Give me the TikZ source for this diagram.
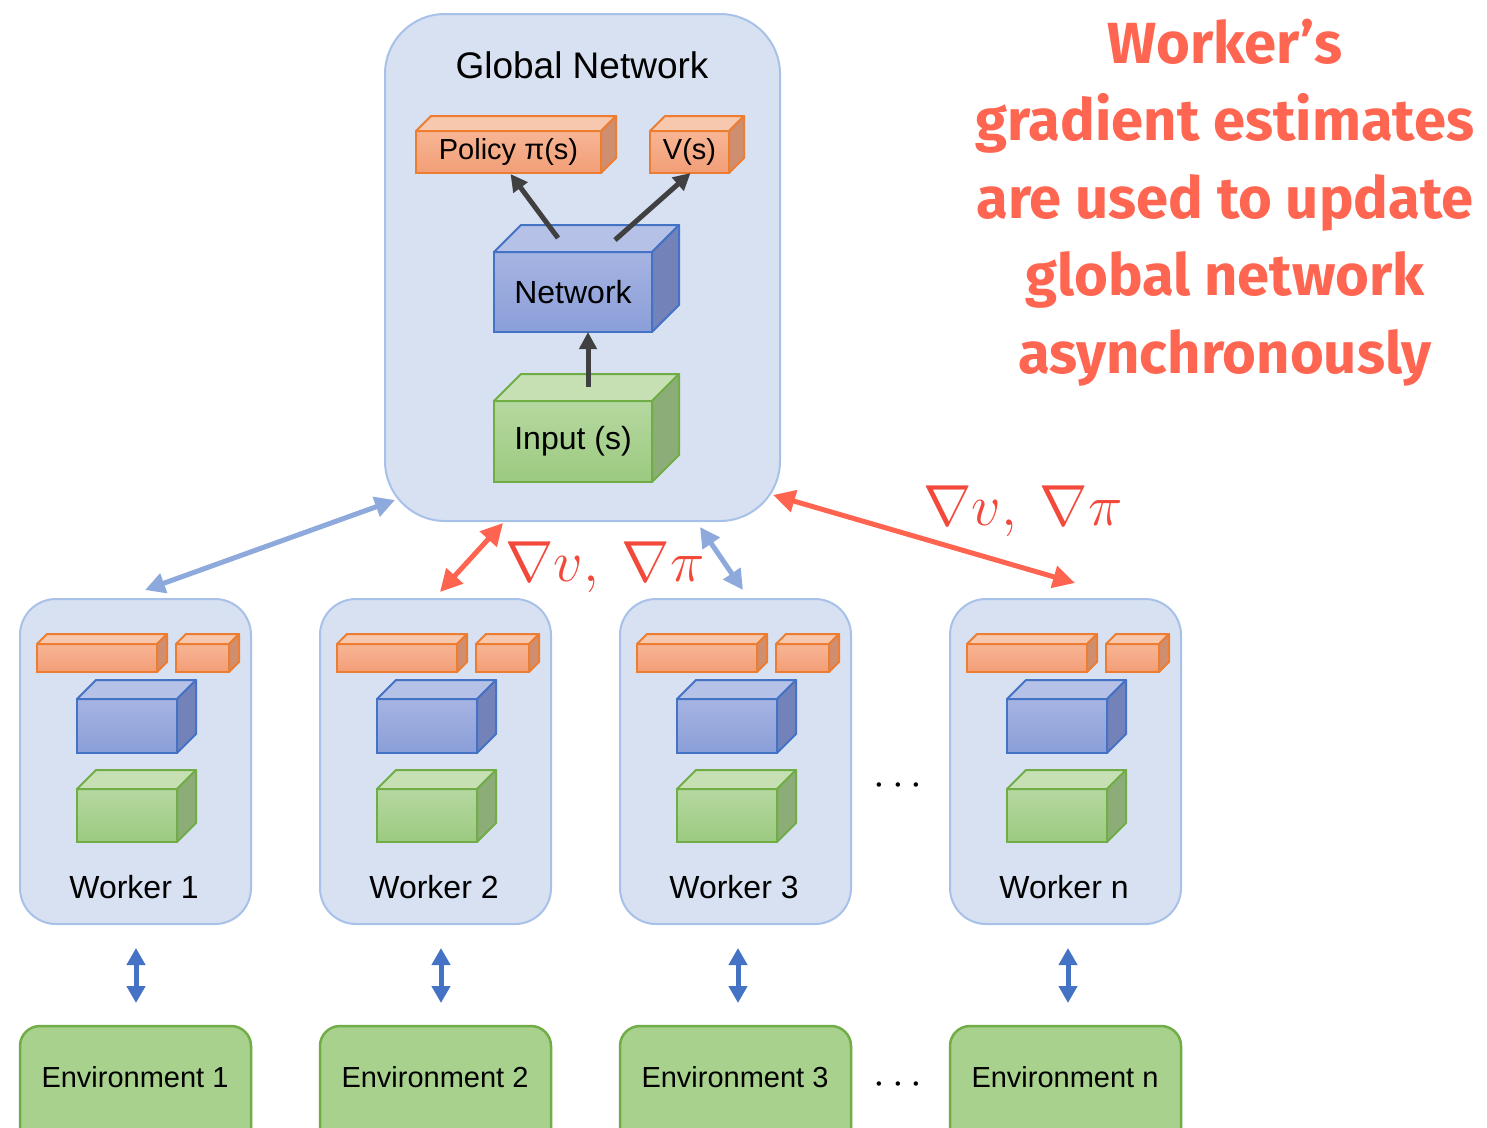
\RequirePackage{fix-cm}
\documentclass[tikz,border=0pt]{standalone}
\usepackage{fontspec}
\setmainfont{Liberation Sans}
\newfontfamily\firafont{Fira Sans}
\usetikzlibrary{arrows.meta}
\definecolor{boxfill}{HTML}{D7E1F2}
\definecolor{boxedge}{HTML}{A8C1E8}
\definecolor{oedgec}{HTML}{ED7D31}
\definecolor{ofrontt}{HTML}{F7B595}
\definecolor{ofrontb}{HTML}{F29E76}
\definecolor{otopc}{HTML}{F8C8AE}
\definecolor{osidec}{HTML}{CE8E6F}
\definecolor{bedgec}{HTML}{4472C4}
\definecolor{bfrontt}{HTML}{A6B4E2}
\definecolor{bfrontb}{HTML}{8A9ED8}
\definecolor{btopc}{HTML}{B5C1E6}
\definecolor{bsidec}{HTML}{7383BA}
\definecolor{gedgec}{HTML}{70AD47}
\definecolor{gfrontt}{HTML}{B5D8A0}
\definecolor{gfrontb}{HTML}{9CCA80}
\definecolor{gtopc}{HTML}{C6E0B4}
\definecolor{gsidec}{HTML}{8DAD78}
\definecolor{envfill}{HTML}{A9D18E}
\definecolor{envedge}{HTML}{70AD47}
\definecolor{darkarrow}{HTML}{404040}
\definecolor{redarrow}{HTML}{FF6450}
\definecolor{lightarrow}{HTML}{8EA9DB}
\definecolor{envarrow}{HTML}{4472C4}
\definecolor{redtext}{HTML}{FF6652}
\definecolor{mathred}{HTML}{F2493A}
\newcommand{\cuboid}[8]{%
  \node[#7front, anchor=north west, minimum width=#4pt, minimum height=#5pt] (#1) at (#2,#3) {#8};
  \draw[#7edge, fill=#7topc] (#1.north west) -- ++(#6,-#6) -- ([shift={(#6,-#6)}]#1.north east) -- (#1.north east) -- cycle;
  \draw[#7edge, fill=#7sidec] (#1.north east) -- ++(#6,-#6) -- ([shift={(#6,-#6)}]#1.south east) -- (#1.south east) -- cycle;
}
\tikzset{
  gbox/.style={draw=boxedge, line width=2pt, fill=boxfill, rounded corners=60pt, inner sep=0pt, outer sep=0pt},
  wbox/.style={draw=boxedge, line width=2pt, fill=boxfill, rounded corners=36pt, inner sep=0pt, outer sep=0pt},
  envbox/.style={draw=envedge, line width=2.5pt, fill=envfill, rounded corners=20pt, inner sep=0pt, outer sep=0pt},
  ofront/.style={draw=oedgec, line width=2pt, top color=ofrontt, bottom color=ofrontb, inner sep=0pt, outer sep=0pt, font=\fontsize{29}{34}\selectfont},
  oedge/.style={draw=oedgec, line width=2pt, line join=round},
  bfront/.style={draw=bedgec, line width=2pt, top color=bfrontt, bottom color=bfrontb, inner sep=0pt, outer sep=0pt, font=\fontsize{32}{38}\selectfont},
  bedge/.style={draw=bedgec, line width=2pt, line join=round},
  gfront/.style={draw=gedgec, line width=2pt, top color=gfrontt, bottom color=gfrontb, inner sep=0pt, outer sep=0pt, font=\fontsize{32}{38}\selectfont},
  gedge/.style={draw=gedgec, line width=2pt, line join=round},
  darr/.style={draw=darkarrow, line width=5pt, -{Triangle[length=17pt,width=17pt]}},
  redarr/.style={draw=redarrow, line width=5pt, {Triangle[length=22pt,width=22pt]}-{Triangle[length=22pt,width=22pt]}},
  bluearr/.style={draw=lightarrow, line width=5pt, {Triangle[length=20pt,width=20pt]}-{Triangle[length=20pt,width=20pt]}},
  envarr/.style={draw=envarrow, line width=5pt, {Triangle[length=17pt,width=18pt]}-{Triangle[length=17pt,width=18pt]}},
  wlabel/.style={inner sep=0pt, font=\fontsize{32}{38}\selectfont},
  envlabel/.style={inner sep=0pt, font=\fontsize{29}{35}\selectfont},
  mathlabel/.style={inner sep=0pt, text=mathred, font=\fontsize{58}{64}\selectfont},
  dotstyle/.style={inner sep=0pt, font=\fontsize{42}{48}\selectfont},
}
\begin{document}
\begin{tikzpicture}[x=1pt,y=-1pt]
\useasboundingbox (0,0) rectangle (1487,1127);
\clip (0,0) rectangle (1487,1127);
\fill[white] (0,0) rectangle (1487,1127);

% Global network
\node[gbox, anchor=north west, minimum width=395pt, minimum height=507pt] (global) at (385,14) {};
\node[inner sep=0pt, anchor=base, font=\fontsize{37}{44}\selectfont] (gtitle) at (582,78) {Global Network};
\cuboid{pol}{416}{131}{185}{42}{15}{o}{Policy π(s)}
\cuboid{vs}{650}{131}{79}{42}{15}{o}{V(s)}
\cuboid{net}{494}{252}{158}{80}{27}{b}{Network}
\cuboid{inp}{494}{401}{158}{81}{27}{g}{Input (s)}
\draw[darr] ([shift={(-15,-14)}]net.north) -- ([shift={(2,1)}]pol.south);
\draw[darr] ([shift={(42,-12)}]net.north) -- ([shift={(1,0)}]vs.south);
\draw[darr] ([shift={(15,-14)}]inp.north) -- ([shift={(15,0)}]net.south);

% Workers and environments
\foreach \L/\id/\wl/\el/\dx in {20/1/Worker 1/Environment 1/0.5, 320/2/Worker 2/Environment 2/5.5, 620/3/Worker 3/Environment 3/2.5, 950/4/Worker n/Environment n/2.5}{
  \node[wbox, anchor=north west, minimum width=231pt, minimum height=325pt] (w\id) at (\L,599) {};
  \cuboid{wp\id}{\L+17}{644}{120}{28}{10}{o}{}
  \cuboid{wv\id}{\L+156}{644}{53}{28}{10}{o}{}
  \cuboid{wn\id}{\L+57}{699}{100}{54}{19}{b}{}
  \cuboid{wi\id}{\L+57}{789}{100}{53}{19}{g}{}
  \node[wlabel, anchor=base] (wt\id) at (\L+114,898) {\wl};
  \node[envbox, anchor=north west, minimum width=231pt, minimum height=130pt] (e\id) at (\L,1026) {};
  \node[envlabel, anchor=base] (et\id) at (\L+115,1087) {\el};
  \draw[envarr] ([shift={(\dx,24)}]w\id.south) -- ([shift={(\dx,-23)}]e\id.north);
}

% Dots
\node[dotstyle] (dots1) at (898,786) {$\cdots$};
\node[dotstyle] (dots2) at (898,1085) {$\cdots$};

% Global <-> worker connectors
\draw[bluearr] ([shift={(10,-21)}]global.south west) -- ([shift={(9.5,-9)}]w1.north);
\draw[redarr] ([shift={(118,2)}]global.south west) -- ([shift={(4.5,-7)}]w2.north);
\draw[bluearr] ([shift={(117.5,6)}]global.south) -- ([shift={(7.5,-9)}]w3.north);
\draw[redarr] ([shift={(-7,-26)}]global.south east) -- ([shift={(9.5,-16)}]w4.north);

% Gradient labels
\node[mathlabel, anchor=base] (grad1) at (605,581) {$\nabla v,\:\nabla\pi$};
\node[mathlabel, anchor=base] (grad2) at (1023,525) {$\nabla v,\:\nabla\pi$};

% Red caption
\node[anchor=base, inner sep=0pt, text=redtext] (caption) at (1225,63) {\firafont\bfseries\fontsize{58}{77.5}\selectfont
  \begin{tabular}[t]{@{}c@{}}Worker’s\\ gradient estimates\\ are used to update\\ global network\\ asynchronously\end{tabular}};
\end{tikzpicture}
\end{document}
